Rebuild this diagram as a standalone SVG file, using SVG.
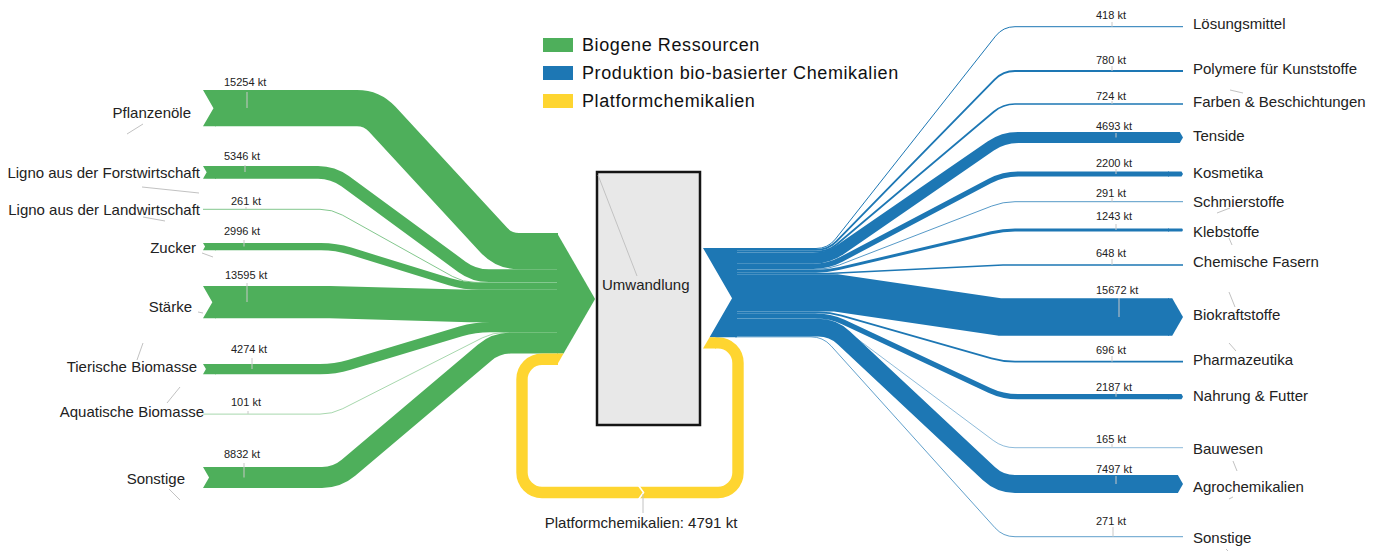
<svg xmlns="http://www.w3.org/2000/svg" width="1380" height="551" viewBox="0 0 1380 551">
<style>
.lg{fill:none;stroke:#4eaf5b}
.lb{fill:none;stroke:#1d77b4;stroke-linejoin:round}
.ly{fill:none;stroke:#fed530}
.ng{fill:#4eaf5b}
.nb{fill:#1d77b4}
.ny{fill:#fed530}
.lab{font-family:"Liberation Sans",Arial,sans-serif;font-size:15px;fill:#222}
.val{font-family:"Liberation Sans",Arial,sans-serif;font-size:11px;fill:#222}
.leg{font-family:"Liberation Sans",Arial,sans-serif;font-size:18px;letter-spacing:0.6px;fill:#111}
.lead{stroke:#c2c2c2;stroke-width:1;fill:none}
.tick{stroke:#c8c8c8;stroke-width:1;fill:none}
</style>
<rect width="1380" height="551" fill="#fff"/>

<g id="connectors">
  <path class="lg" stroke-width="36.3" d="M215,108.15 L357,108.15 Q372,108.15 382.17,119.17 L493.83,240.13 Q504,251.15 519,251.15 L558,251.15"/>
  <path class="lg" stroke-width="12.72" d="M215,172.36 L318,172.36 Q333,172.36 345.1,181.22 L461.9,266.78 Q474,275.66 489,275.66 L558,275.66"/>
  <path class="lg" stroke-width="0.7" d="M203,209.31 L320,209.31 Q332,209.31 342.48,215.14 L452.52,276.46 Q463,282.33 475,282.33 L558,282.33"/>
  <path class="lg" stroke-width="7.13" d="M215,246.57 L321,246.57 Q336,246.57 350.33,251 L449.67,281.77 Q464,286.2 479,286.2 L558,286.2"/>
  <path class="lg" stroke-width="32.36" d="M215,302.18 L330,302.18 L470,305.95 L558,305.95"/>
  <path class="lg" stroke-width="10.17" d="M215,369.09 L320,369.09 Q335,369.09 349.37,364.8 L460.63,331.49 Q475,327.2 490,327.2 L558,327.2"/>
  <path class="lg" stroke-width="0.5" d="M203,414.12 L320,414.12 Q332,414.12 342.7,408.69 L482.3,337.85 Q493,332.42 505,332.42 L558,332.42"/>
  <path class="lg" stroke-width="21.02" d="M215,477.51 L322,477.51 Q337,477.51 348.46,467.83 L484.54,352.73 Q496,343.05 511,343.05 L558,343.05"/>

  <path class="ly" stroke-width="11.4" d="M715,342.91 L718,342.91 A20,20 0 0 1 738,362.91 L738,472.5 A20,20 0 0 1 718,492.5 L542,492.5 A20,20 0 0 1 522,472.5 L522,379.26 A20,20 0 0 1 542,359.26 L558,359.26"/>
  <polyline points="638.5,485.5 643.5,492.5 638.5,499.5" fill="none" stroke="#fff" stroke-width="1.6"/>

  <path class="lb" stroke-width="1" d="M735,248.5 L816,248.5 Q828,248.5 835.43,239.08 L995.57,36.12 Q1003,26.7 1015,26.7 L1183,26.7"/>
  <path class="lb" stroke-width="1.86" d="M735,249.92 L816,249.92 Q828,249.92 836.39,241.34 L994.61,79.58 Q1003,71 1015,71 L1183,71"/>
  <path class="lb" stroke-width="1.72" d="M735,251.71 L816,251.71 Q828,251.71 837.17,243.97 L993.83,111.74 Q1003,104 1015,104 L1183,104"/>
  <path class="lb" stroke-width="11.17" d="M735,258.16 L813,258.16 Q828,258.16 840.35,249.65 L990.65,146.01 Q1003,137.5 1018,137.5 L1169,137.5"/>
  <path class="lb" stroke-width="5.24" d="M735,266.36 L813,266.36 Q828,266.36 841.26,259.36 L989.74,181 Q1003,174 1018,174 L1169,174"/>
  <path class="lb" stroke-width="0.75" d="M735,269.33 L816,269.33 Q828,269.33 839.19,265 L991.81,206.03 Q1003,201.7 1015,201.7 L1183,201.7"/>
  <path class="lb" stroke-width="2.96" d="M735,271.15 L816,271.15 Q828,271.15 839.68,268.4 L991.32,232.75 Q1003,230 1015,230 L1169,230"/>
  <path class="lb" stroke-width="1.54" d="M735,273.4 L828,273.4 L1003,265 L1183,265"/>
  <path class="lb" stroke-width="37.3" d="M735,292.82 L835,292.82 L1000,317 L1169,317"/>
  <path class="lb" stroke-width="1.66" d="M735,312.3 L818,312.3 Q830,312.3 841.54,315.6 L991.46,358.4 Q1003,361.7 1015,361.7 L1183,361.7"/>
  <path class="lb" stroke-width="5.2" d="M735,315.73 L815,315.73 Q830,315.73 843.59,322.09 L989.41,390.34 Q1003,396.7 1018,396.7 L1169,396.7"/>
  <path class="lb" stroke-width="0.5" d="M735,318.53 L818,318.53 Q830,318.53 839.62,325.71 L993.38,440.52 Q1003,447.7 1015,447.7 L1183,447.7"/>
  <path class="lb" stroke-width="17.84" d="M735,327.65 L818,327.65 Q833,327.65 843.95,337.9 L989.05,473.75 Q1000,484 1015,484 L1169,484"/>
  <path class="lb" stroke-width="0.7" d="M735,336.89 L811,336.89 Q823,336.89 831.03,345.81 L994.97,527.78 Q1003,536.7 1015,536.7 L1183,536.7"/>
</g>

<g id="legend">
  <rect x="543" y="38" width="30" height="14" class="ng"/>
  <text x="582" y="51" class="leg">Biogene Ressourcen</text>
  <rect x="543" y="66" width="30" height="14" class="nb"/>
  <text x="582" y="79" class="leg">Produktion bio-basierter Chemikalien</text>
  <rect x="543" y="94" width="30" height="14" class="ny"/>
  <text x="582" y="107" class="leg">Platformchemikalien</text>
</g>

<g id="node-umwandlung">
  <polygon class="ng" points="557,233 595.1,298.98 563.58,353.56 557,353.56"/>
  <polygon class="ny" points="557,353.56 563.58,353.56 557,364.96"/>
  <polygon class="nb" points="703,248 737,248 737,337.21 709.59,337.21 732.05,298.31"/>
  <polygon class="ny" points="709.59,337.21 716,337.21 716,348.62 703,348.62"/>
  <rect x="597" y="172" width="103" height="253" fill="#e8e8e8" stroke="#151515" stroke-width="2.5"/>
  <line class="lead" x1="598" y1="175" x2="637" y2="276"/>
  <text x="602" y="290" class="lab">Umwandlung</text>
</g>

<g id="node-platformchemikalien">
  <line class="lead" x1="643" y1="494" x2="643" y2="513"/>
  <text x="641" y="528" class="lab" text-anchor="middle">Platformchemikalien: 4791 kt</text>
</g>

<g id="node-pflanzenoele">
  <polygon class="ng" points="203,90 216,90 216,126.3 203,126.3 213.48,108.15"/>
  <line class="tick" x1="247" y1="92" x2="247" y2="108"/>
  <text x="224" y="86" class="val">15254 kt</text>
  <text x="191" y="118" class="lab" text-anchor="end">Pflanzenöle</text>
  <line class="lead" x1="127" y1="134" x2="143" y2="124"/>
</g>
<g id="node-ligno-forst">
  <polygon class="ng" points="203,166 216,166 216,178.72 203,178.72 206.67,172.36"/>
  <line class="tick" x1="245" y1="165" x2="245" y2="172"/>
  <text x="224" y="160" class="val">5346 kt</text>
  <text x="200" y="178" class="lab" text-anchor="end">Ligno aus der Forstwirtschaft</text>
  <line class="lead" x1="142" y1="187" x2="199" y2="193"/>
</g>
<g id="node-ligno-land">
  <line class="tick" x1="246" y1="207" x2="246" y2="209"/>
  <text x="231" y="205" class="val">261 kt</text>
  <text x="200" y="215" class="lab" text-anchor="end">Ligno aus der Landwirtschaft</text>
  <line class="lead" x1="143" y1="217" x2="165" y2="221"/>
</g>
<g id="node-zucker">
  <polygon class="ng" points="203,243 216,243 216,250.13 203,250.13 205.06,246.57"/>
  <line class="tick" x1="244" y1="240" x2="244" y2="246.5"/>
  <text x="224" y="235" class="val">2996 kt</text>
  <text x="196" y="253" class="lab" text-anchor="end">Zucker</text>
  <line class="lead" x1="202" y1="253" x2="213" y2="257"/>
</g>
<g id="node-staerke">
  <polygon class="ng" points="203,286 216,286 216,318.36 203,318.36 212.34,302.18"/>
  <line class="tick" x1="247" y1="283" x2="247" y2="302"/>
  <text x="225" y="279" class="val">13595 kt</text>
  <text x="192" y="312" class="lab" text-anchor="end">Stärke</text>
  <line class="lead" x1="198" y1="312" x2="203" y2="313"/>
</g>
<g id="node-tierische">
  <polygon class="ng" points="203,364 216,364 216,374.17 203,374.17 205.94,369.09"/>
  <line class="tick" x1="252" y1="358" x2="252" y2="369"/>
  <text x="231" y="353" class="val">4274 kt</text>
  <text x="197" y="372" class="lab" text-anchor="end">Tierische Biomasse</text>
  <line class="lead" x1="137" y1="360" x2="143" y2="343"/>
</g>
<g id="node-aquatische">
  <line class="tick" x1="248" y1="411" x2="248" y2="414"/>
  <text x="231" y="406" class="val">101 kt</text>
  <text x="204" y="417" class="lab" text-anchor="end">Aquatische Biomasse</text>
  <line class="lead" x1="167" y1="403" x2="180" y2="387"/>
</g>
<g id="node-sonstige-in">
  <polygon class="ng" points="203,467 216,467 216,488.02 203,488.02 209.07,477.51"/>
  <line class="tick" x1="244" y1="463" x2="244" y2="477.5"/>
  <text x="224" y="458" class="val">8832 kt</text>
  <text x="185" y="484" class="lab" text-anchor="end">Sonstige</text>
  <line class="lead" x1="169" y1="489" x2="180" y2="500"/>
</g>

<g id="node-loesungsmittel">
  <line class="tick" x1="1112" y1="22" x2="1112" y2="26.7"/>
  <text x="1096" y="19" class="val">418 kt</text>
  <text x="1193" y="29" class="lab">Lösungsmittel</text>
</g>
<g id="node-polymere">
  <line class="tick" x1="1112" y1="66" x2="1112" y2="71"/>
  <text x="1096" y="64" class="val">780 kt</text>
  <text x="1193" y="74" class="lab">Polymere für Kunststoffe</text>
</g>
<g id="node-farben">
  <line class="tick" x1="1112" y1="101" x2="1112" y2="104"/>
  <text x="1096" y="100" class="val">724 kt</text>
  <text x="1193" y="107" class="lab">Farben &amp; Beschichtungen</text>
  <line class="lead" x1="1230" y1="90" x2="1243" y2="93"/>
</g>
<g id="node-tenside">
  <polygon class="nb" points="1168,131.92 1179.78,131.92 1183,137.5 1179.78,143.08 1168,143.08"/>
  <line class="tick" x1="1116" y1="133" x2="1116" y2="137.5"/>
  <text x="1096" y="130" class="val">4693 kt</text>
  <text x="1193" y="141" class="lab">Tenside</text>
</g>
<g id="node-kosmetika">
  <polygon class="nb" points="1168,171.38 1181.49,171.38 1183,174 1181.49,176.62 1168,176.62"/>
  <line class="tick" x1="1116" y1="169" x2="1116" y2="174"/>
  <text x="1096" y="167" class="val">2200 kt</text>
  <text x="1193" y="178" class="lab">Kosmetika</text>
</g>
<g id="node-schmierstoffe">
  <line class="tick" x1="1112" y1="198" x2="1112" y2="201.7"/>
  <text x="1096" y="197" class="val">291 kt</text>
  <text x="1193" y="207" class="lab">Schmierstoffe</text>
  <line class="lead" x1="1217" y1="213" x2="1230" y2="208"/>
</g>
<g id="node-klebstoffe">
  <polygon class="nb" points="1168,228.52 1182.15,228.52 1183,230 1182.15,231.48 1168,231.48"/>
  <line class="tick" x1="1116" y1="224" x2="1116" y2="230"/>
  <text x="1096" y="220" class="val">1243 kt</text>
  <text x="1193" y="237" class="lab">Klebstoffe</text>
  <line class="lead" x1="1229" y1="238" x2="1232" y2="245"/>
</g>
<g id="node-chemische-fasern">
  <line class="tick" x1="1112" y1="259" x2="1112" y2="265"/>
  <text x="1096" y="257" class="val">648 kt</text>
  <text x="1193" y="267" class="lab">Chemische Fasern</text>
</g>
<g id="node-biokraftstoffe">
  <polygon class="nb" points="1168,298.35 1172.23,298.35 1183,317 1172.23,335.65 1168,335.65"/>
  <line class="tick" x1="1119" y1="298" x2="1119" y2="317"/>
  <text x="1096" y="294" class="val">15672 kt</text>
  <text x="1193" y="320" class="lab">Biokraftstoffe</text>
  <line class="lead" x1="1229" y1="292" x2="1235" y2="307"/>
</g>
<g id="node-pharmazeutika">
  <line class="tick" x1="1112" y1="356" x2="1112" y2="361.7"/>
  <text x="1096" y="354" class="val">696 kt</text>
  <text x="1193" y="365" class="lab">Pharmazeutika</text>
  <line class="lead" x1="1229" y1="343" x2="1236" y2="351"/>
</g>
<g id="node-nahrung">
  <polygon class="nb" points="1168,394.1 1181.5,394.1 1183,396.7 1181.5,399.3 1168,399.3"/>
  <line class="tick" x1="1116" y1="392" x2="1116" y2="396.7"/>
  <text x="1096" y="391" class="val">2187 kt</text>
  <text x="1193" y="401" class="lab">Nahrung &amp; Futter</text>
</g>
<g id="node-bauwesen">
  <line class="tick" x1="1112" y1="444" x2="1112" y2="447.7"/>
  <text x="1096" y="443" class="val">165 kt</text>
  <text x="1193" y="454" class="lab">Bauwesen</text>
  <line class="lead" x1="1233" y1="461" x2="1237" y2="471"/>
</g>
<g id="node-agrochemikalien">
  <polygon class="nb" points="1168,475.08 1177.85,475.08 1183,484 1177.85,492.92 1168,492.92"/>
  <line class="tick" x1="1116" y1="476" x2="1116" y2="484"/>
  <text x="1096" y="473" class="val">7497 kt</text>
  <text x="1193" y="492" class="lab">Agrochemikalien</text>
  <line class="lead" x1="1229" y1="499" x2="1233" y2="497"/>
</g>
<g id="node-sonstige-out">
  <line class="tick" x1="1113" y1="527" x2="1113" y2="536.7"/>
  <text x="1096" y="525" class="val">271 kt</text>
  <text x="1193" y="543" class="lab">Sonstige</text>
  <line class="lead" x1="1226" y1="549" x2="1228" y2="551"/>
</g>
</svg>
